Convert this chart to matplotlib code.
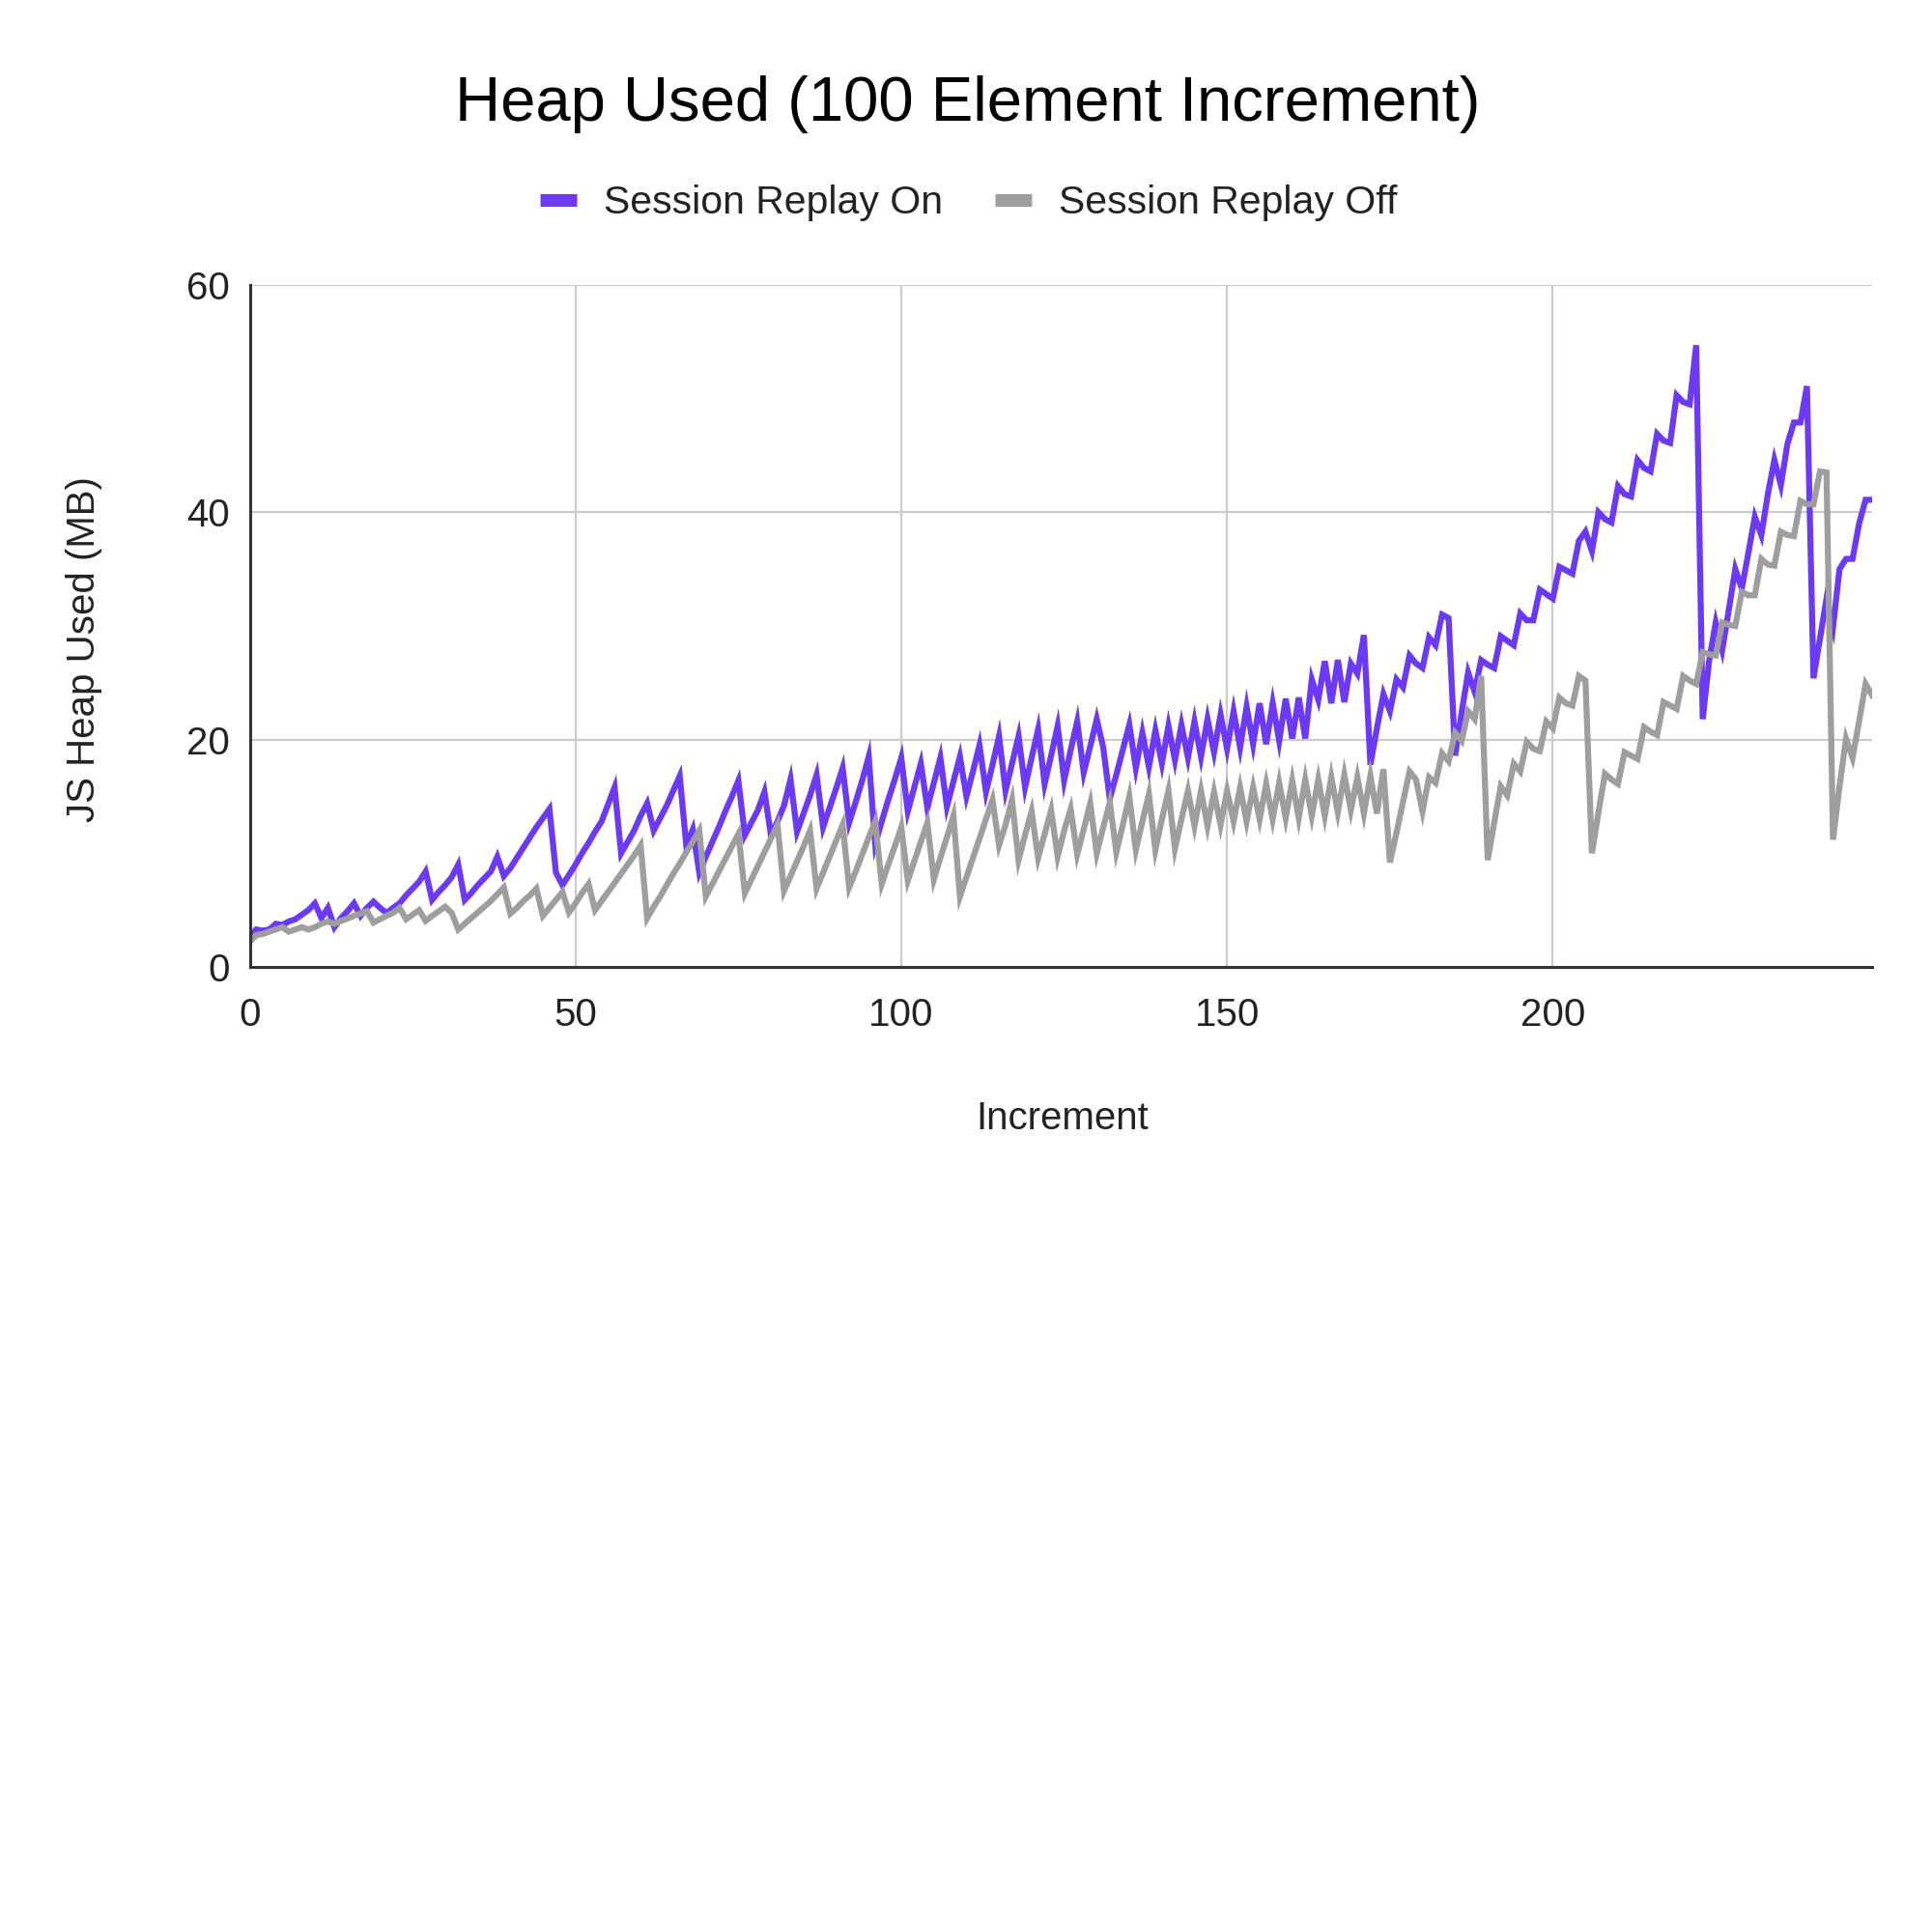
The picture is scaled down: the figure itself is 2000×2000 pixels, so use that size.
import matplotlib
matplotlib.use("Agg")
import matplotlib.pyplot as plt
from matplotlib.lines import Line2D

plt.rcParams['font.family'] = ['Liberation Sans', 'DejaVu Sans']

title = "Heap Used (100 Element Increment)"
series_names = ["Session Replay On", "Session Replay Off"]
x_label = "Increment"
y_label = "JS Heap Used (MB)"
x_ticks = [0, 50, 100, 150, 200]
y_ticks = [0, 20, 40, 60]

replay_on = [
    2.6, 3.3, 3.2, 3.3, 3.8, 3.7, 4.0, 4.2, 4.6, 5.0,
    5.6, 4.3, 5.2, 3.5, 4.3, 4.9, 5.6, 4.5, 5.2, 5.75,
    5.2, 4.75, 5.2, 5.6, 6.3, 6.9, 7.5, 8.4, 5.9, 6.6,
    7.2, 7.9, 9.0, 5.9, 6.5, 7.2, 7.8, 8.4, 9.7, 8.0,
    8.7, 9.6, 10.5, 11.4, 12.3, 13.1, 13.9, 8.3, 7.2, 8.1,
    9.0, 10.0, 10.9, 11.9, 12.8, 14.3, 15.8, 10.0, 11.0, 12.0,
    13.3, 14.4, 12.0, 13.1, 14.2, 15.5, 16.8, 10.7, 12.1, 8.3,
    9.7, 11.0, 12.3, 13.7, 15.0, 16.4, 11.6, 12.7, 13.8, 15.4,
    11.6, 12.8, 14.2, 16.5, 11.9, 13.5, 15.1, 16.9, 12.3, 14.0,
    15.7, 17.5, 12.7, 14.5, 16.4, 18.5, 10.8, 12.8, 14.7, 16.5,
    18.4, 13.7, 15.8, 17.9, 14.0, 16.2, 18.4, 14.1, 16.3, 18.5,
    15.0, 17.2, 19.5, 15.4, 17.8, 20.3, 15.5, 17.9, 20.3, 15.8,
    18.4, 20.9, 16.1, 18.6, 21.2, 16.4, 19.1, 21.6, 17.1, 19.4,
    21.8, 19.3, 14.8, 16.9, 19.1, 21.3, 17.5, 20.6, 17.6, 20.8,
    17.9, 21.2, 18.2, 21.3, 18.4, 21.6, 18.5, 21.8, 18.9, 22.2,
    19.2, 22.5, 19.3, 22.9, 19.6, 23.2, 19.6, 23.2, 19.9, 23.6,
    20.1, 23.7, 20.1, 25.3, 23.5, 26.9, 23.2, 27.0, 23.3, 26.7,
    25.8, 29.2, 17.8, 21.0, 24.0, 22.5, 25.3, 24.6, 27.4, 26.7,
    26.3, 29.0, 28.3, 31.0, 30.7, 18.6, 22.4, 25.9, 24.2, 27.0,
    26.6, 26.3, 29.1, 28.7, 28.3, 31.1, 30.5, 30.5, 33.2, 32.8,
    32.4, 35.2, 34.9, 34.6, 37.5, 38.3, 36.6, 40.0, 39.4, 39.1,
    42.3, 41.6, 41.4, 44.6, 43.9, 43.6, 46.9, 46.3, 46.1, 50.3,
    49.7, 49.5, 54.7, 21.8, 27.0, 30.3, 27.9, 31.4, 35.0, 33.3,
    36.4, 39.6, 38.0, 41.6, 44.6, 42.4, 46.0, 47.9, 47.9, 51.1,
    25.4, 28.9, 32.4, 29.9, 35.0, 35.9, 35.9, 39.0, 41.1, 41.1,
]

replay_off = [
    2.2, 2.8, 2.9, 3.1, 3.3, 3.5, 3.1, 3.3, 3.5, 3.3,
    3.5, 3.8, 4.0, 3.8, 4.05, 4.25, 4.5, 4.7, 4.9, 3.9,
    4.2, 4.5, 4.75, 5.2, 4.2, 4.6, 5.0, 4.05, 4.5, 4.9,
    5.3, 4.75, 3.3, 3.8, 4.3, 4.8, 5.3, 5.8, 6.4, 7.0,
    4.7, 5.2, 5.8, 6.3, 6.9, 4.5, 5.2, 5.9, 6.6, 4.8,
    5.6, 6.5, 7.3, 5.0, 5.8, 6.6, 7.4, 8.2, 9.0, 9.8,
    10.7, 4.3, 5.3, 6.2, 7.2, 8.2, 9.1, 10.1, 11.0, 12.0,
    6.2, 7.3, 8.4, 9.5, 10.6, 11.7, 6.5, 7.7, 8.9, 10.1,
    11.3, 12.5, 6.7, 8.0, 9.3, 10.6, 12.0, 6.9, 8.3, 9.7,
    11.1, 12.5, 7.0, 8.4, 9.9, 11.4, 12.8, 7.3, 9.0, 10.6,
    12.3, 7.6, 9.3, 11.0, 12.7, 7.7, 9.6, 11.4, 13.3, 6.2,
    7.9, 9.6, 11.3, 13.0, 14.7, 10.7, 12.5, 14.7, 9.4, 11.6,
    13.7, 9.6, 11.7, 13.8, 9.7, 12.0, 13.9, 9.9, 12.1, 14.4,
    10.0, 12.3, 14.5, 10.1, 12.5, 15.0, 10.3, 12.8, 15.2, 10.3,
    13.0, 15.5, 10.4, 13.0, 15.5, 12.4, 15.5, 12.4, 15.4, 12.5,
    15.5, 12.8, 15.8, 12.8, 15.8, 13.0, 16.1, 13.0, 16.2, 13.1,
    16.4, 13.1, 16.5, 13.3, 16.5, 13.3, 16.7, 13.6, 16.9, 13.8,
    16.7, 13.5, 16.8, 13.5, 17.4, 9.2, 11.8, 14.5, 17.2, 16.5,
    13.7, 16.7, 16.2, 18.8, 18.1, 20.6, 19.9, 22.5, 21.8, 25.6,
    9.4, 12.7, 15.9, 15.1, 17.9, 17.2, 19.8, 19.2, 19.0, 21.6,
    21.0, 23.7, 23.2, 23.0, 25.6, 25.2, 10.0, 13.6, 17.0, 16.5,
    16.1, 18.9, 18.6, 18.3, 21.1, 20.7, 20.4, 23.3, 23.0, 22.7,
    25.6, 25.2, 24.9, 27.7, 27.5, 27.4, 30.3, 30.1, 30.0, 33.0,
    32.7, 32.7, 35.9, 35.4, 35.3, 38.3, 38.0, 37.9, 41.0, 40.7,
    40.7, 43.6, 43.5, 11.2, 15.9, 20.1, 18.4, 21.6, 24.9, 23.9,
]

increments = list(range(len(replay_on)))

color_on = "#6c3af6"
color_off = "#9e9e9e"

W = H = 2000
fig = plt.figure(figsize=(20, 20), dpi=100)
ax = fig.add_axes([258.5 / W, 1 - 1001 / H, (1938 - 258.5) / W, (1001 - 295) / H])

ax.plot(increments, replay_on, color=color_on, lw=4.5, solid_joinstyle='miter', zorder=3)
ax.plot(increments, replay_off, color=color_off, lw=4.5, solid_joinstyle='miter', zorder=4)

ax.set_xlim(0, increments[-1])
ax.set_ylim(0, 60)
ax.set_xticks(x_ticks)
ax.set_yticks(y_ticks)
ax.set_xticklabels([str(t) for t in x_ticks])
ax.set_yticklabels([str(t) for t in y_ticks])
ax.tick_params(axis='both', length=0, labelsize=29, colors='#222222')
ax.tick_params(axis='x', pad=22)
ax.tick_params(axis='y', pad=15)
ax.grid(True, color='#cccccc', lw=1.6, zorder=0)
ax.set_axisbelow(True)
for side in ('top', 'right'):
    ax.spines[side].set_visible(False)
for side in ('left', 'bottom'):
    ax.spines[side].set_color('#333333')
    ax.spines[side].set_linewidth(2.2)
    ax.spines[side].set_zorder(5)

fig.text(1002 / W, 1 - 125 / H, title, ha='center', va='baseline', fontsize=47, color='#000000')
fig.text(1100 / W, 1 - 1169 / H, x_label, ha='center', va='baseline', fontsize=29, color='#222222')
fig.text(87 / W, 1 - 672 / H, y_label, ha='center', va='center', rotation=90, fontsize=29, color='#222222')

handles = [Line2D([], [], color=color_on, lw=9.5, solid_capstyle='butt'),
           Line2D([], [], color=color_off, lw=9.5, solid_capstyle='butt')]
leg = fig.legend(handles, series_names, loc='center', ncol=2,
                 bbox_to_anchor=(1002.5 / W, 1 - 210 / H), bbox_transform=fig.transFigure,
                 frameon=False, fontsize=29.5, handlelength=0.93, handletextpad=0.68,
                 columnspacing=1.32, borderpad=0, borderaxespad=0)
for t in leg.get_texts():
    t.set_color('#222222')

fig.savefig("out.png", dpi=100)
